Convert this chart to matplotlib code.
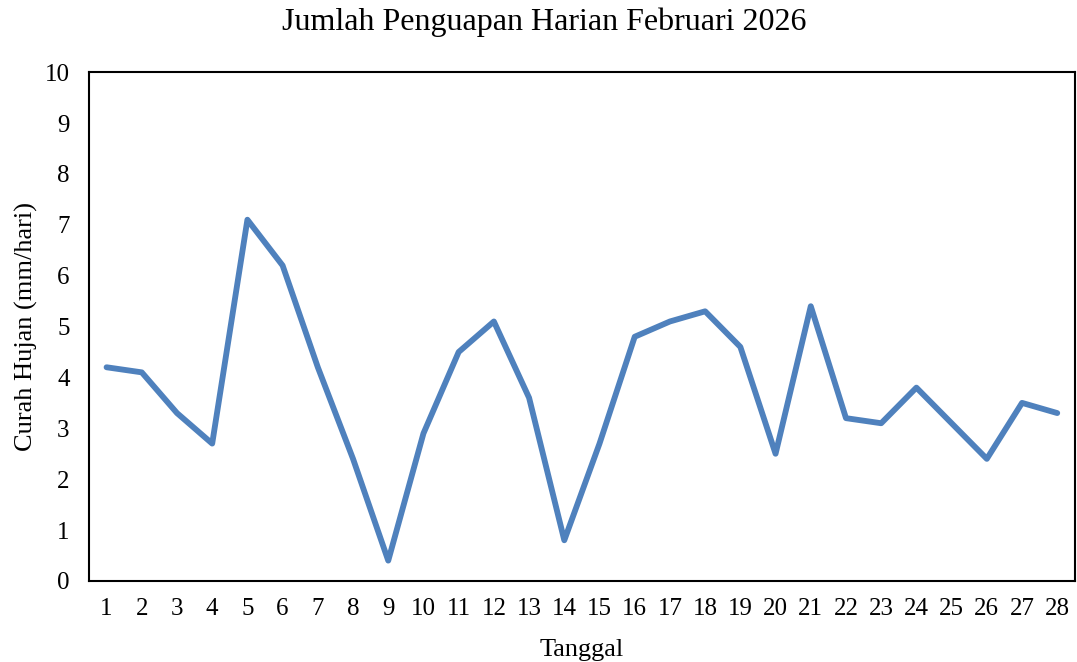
import numpy as np
import matplotlib
matplotlib.use('Agg')
import matplotlib.pyplot as plt

tanggal = list(range(1, 29))
penguapan = [4.2, 4.1, 3.3, 2.7, 7.1, 6.2, 4.2, 2.4, 0.4, 2.9,
             4.5, 5.1, 3.6, 0.8, 2.7, 4.8, 5.1, 5.3, 4.6, 2.5,
             5.4, 3.2, 3.1, 3.8, 3.1, 2.4, 3.5, 3.3]
y_ticks = list(range(0, 11))

plt.rcParams['font.family'] = ['Liberation Serif', 'DejaVu Serif']

fig = plt.figure(figsize=(10.77, 6.62), dpi=100)
ax = fig.add_axes([0.0826, 0.1224, 0.9154, 0.7686])

ax.plot(tanggal, penguapan, color='#4F81BD', linewidth=4.2,
        solid_joinstyle='round', solid_capstyle='round')

ax.set_xlim(0.5, 28.5)
ax.set_ylim(0, 10)
ax.set_xticks(tanggal)
ax.set_yticks(y_ticks)
ax.tick_params(axis='x', length=0, labelsize=18, pad=12)
ax.tick_params(axis='y', length=0, labelsize=18, pad=14)
for s in ax.spines.values():
    s.set_linewidth(1.5)
    s.set_color('black')

fig.text(0.505, 0.967, 'Jumlah Penguapan Harian Februari 2026',
         fontsize=23, ha='center', va='center')
ax.set_xlabel('Tanggal', fontsize=19, labelpad=14)
ax.set_ylabel('Curah Hujan (mm/hari)', fontsize=19, labelpad=5)

fig.savefig('out.png', dpi=100)
